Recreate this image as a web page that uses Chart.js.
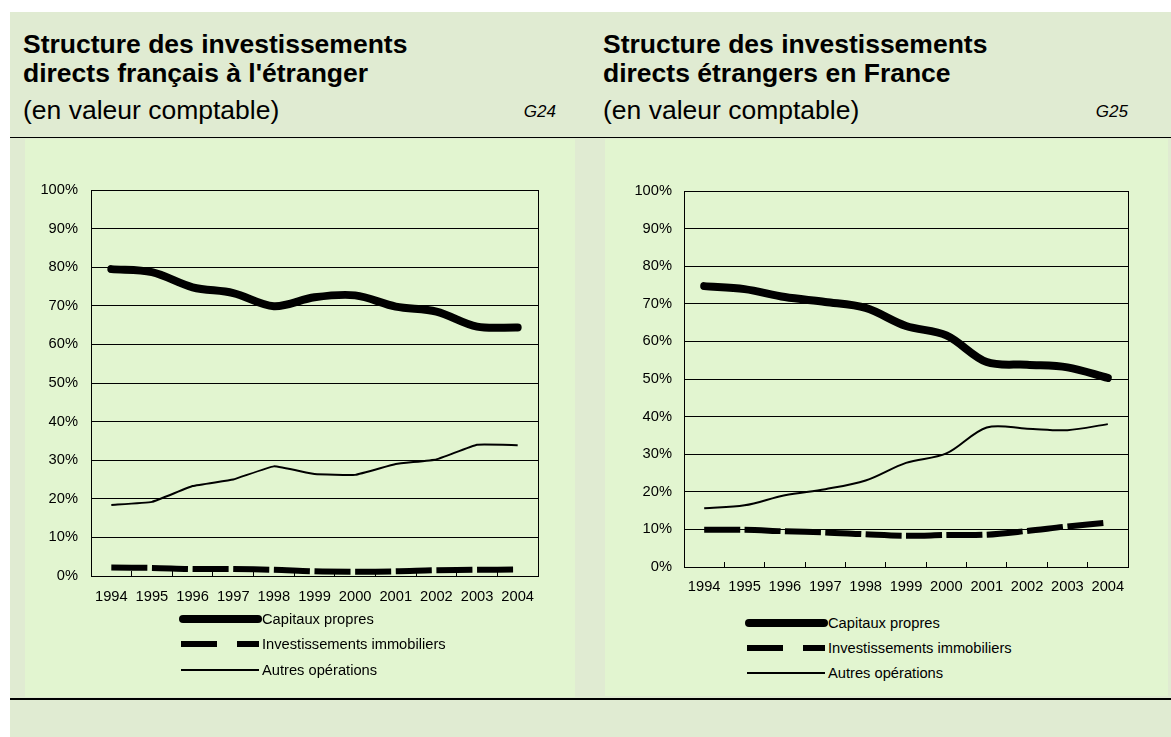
<!DOCTYPE html>
<html lang="fr">
<head>
<meta charset="utf-8">
<title>Structure des investissements directs</title>
<script src="https://cdn.jsdelivr.net/npm/chart.js@4.4.1/dist/chart.umd.min.js"></script>
<style>
  html, body { margin: 0; padding: 0; }
  body {
    width: 1171px; height: 737px; position: relative; overflow: hidden;
    background: #fff; color: #000;
    font-family: "Liberation Sans", Arial, sans-serif;
  }
  .band { position: absolute; left: 10px; top: 12px; right: 0; bottom: 0; background: #e0ebd2; }
  .rule { position: absolute; left: 10px; right: 0; background: #000; }
  .panel { position: absolute; background: #e2f5d0; }
  .title { position: absolute; font-size: 26.5px; line-height: 29px; white-space: nowrap; font-weight: bold; }
  .sub { position: absolute; font-size: 26.5px; line-height: 30px; white-space: nowrap; }
  .num { position: absolute; width: 80px; text-align: right; font-style: italic; font-size: 17px; line-height: 30px; }
  canvas { position: absolute; }
  .legend { position: absolute; font-size: 14.7px; }
  .legend div { display: flex; align-items: center; }
  .legend svg { display: block; }
</style>
</head>
<body>
<div class="band"></div>
<div class="rule" style="top:137px;height:1px"></div>
<div class="panel" style="left:25px;top:139px;width:550px;height:558px"></div>
<div class="panel" style="left:605px;top:139px;width:563px;height:557px"></div>
<div class="rule" style="top:698px;height:2px"></div>

<div class="title" style="left:23px;top:30px">Structure des investissements<br>directs français à l'étranger</div>
<div class="sub" style="left:23px;top:95px">(en valeur comptable)</div>
<div class="num" style="left:476px;top:97px">G24</div>
<div class="title" style="left:603px;top:30px">Structure des investissements<br>directs étrangers en France</div>
<div class="sub" style="left:603px;top:95px">(en valeur comptable)</div>
<div class="num" style="left:1048px;top:97px">G25</div>

<canvas id="g24" width="550" height="470" style="left:25px;top:139px"></canvas>
<canvas id="g25" width="563" height="470" style="left:605px;top:139px"></canvas>
<div class="legend" id="leg24" style="left:179px;top:606px"></div>
<div class="legend" id="leg25" style="left:745px;top:610px"></div>

<script>
// years on the x axis
const years = ["1994", "1995", "1996", "1997", "1998", "1999", "2000", "2001", "2002", "2003", "2004"];
const seriesLabels = ["Capitaux propres", "Investissements immobiliers", "Autres opérations"];

// G24 : investissements directs français à l'étranger (en %)
const capitauxG24 = [79.5, 78.7, 74.8, 73.3, 69.9, 72.2, 72.7, 69.8, 68.5, 64.6, 64.4];
const immobilierG24 = [2.2, 2.1, 1.8, 1.8, 1.6, 1.2, 1.1, 1.2, 1.5, 1.6, 1.7];
const autresG24 = [18.4, 19.2, 23.3, 25.0, 28.4, 26.4, 26.2, 29.0, 30.2, 34.0, 33.9];

// G25 : investissements directs étrangers en France (en %)
const capitauxG25 = [74.7, 73.9, 71.8, 70.5, 68.9, 64.1, 61.6, 54.5, 53.8, 53.1, 50.3];
const immobilierG25 = [9.9, 9.9, 9.5, 9.2, 8.7, 8.3, 8.5, 8.6, 9.6, 10.8, 11.8];
const autresG25 = [15.6, 16.4, 19.1, 20.7, 23.0, 27.7, 30.2, 37.1, 36.8, 36.4, 38.0];

// y axis ticks
const yMin = 0;
const yMax = 100;
const yStep = 10;

Chart.defaults.font.family = '"Liberation Sans", Arial, sans-serif';
Chart.defaults.color = "#000";

const tickFont = { size: 14.7 };

// black frame around the plot area
const frame = {
  id: "frame",
  beforeDatasetsDraw(chart) {
    const { ctx, chartArea: a } = chart;
    ctx.save();
    ctx.strokeStyle = "#000";
    ctx.lineWidth = 1;
    ctx.strokeRect(Math.round(a.left) + 0.5, Math.round(a.top) + 0.5, Math.round(a.width), Math.round(a.height));
    ctx.restore();
  }
};

function makeDatasets(capitaux, immobilier, autres, autresTension) {
  return [
    {
      label: seriesLabels[0], data: capitaux,
      borderColor: "#000", borderWidth: 8, borderCapStyle: "round", borderJoinStyle: "round",
      tension: 0.33
    },
    {
      label: seriesLabels[1], data: immobilier,
      borderColor: "#000", borderWidth: 6, borderDash: [36, 20], borderCapStyle: "butt",
      tension: 0.33,
      // restart the dash pattern at every point, like the original
      segment: { borderDashOffset: c => (c.p0DataIndex % 2) * 56 }
    },
    {
      label: seriesLabels[2], data: autres,
      borderColor: "#000", borderWidth: 2, borderJoinStyle: "round",
      tension: autresTension
    }
  ];
}

function makeChart(id, datasets, box) {
  return new Chart(document.getElementById(id), {
    type: "line",
    data: { labels: years, datasets },
    options: {
      responsive: false,
      animation: false,
      layout: { padding: { top: box.top, right: box.right, left: 0, bottom: 0 } },
      elements: { point: { radius: 0 } },
      plugins: { legend: { display: false }, tooltip: { enabled: false } },
      scales: {
        x: {
          offset: true,
          grid: { offset: true, drawOnChartArea: false, drawTicks: true, tickLength: -5, color: "#000", lineWidth: 1 },
          border: { color: "#000", width: 1 },
          ticks: { font: tickFont, padding: box.xPad, maxRotation: 0, autoSkip: false },
          afterFit: s => { s.height = box.xHeight; }
        },
        y: {
          min: yMin, max: yMax,
          grid: { color: "#000", lineWidth: 1, drawTicks: false },
          border: { color: "#000", width: 1 },
          ticks: { stepSize: yStep, font: tickFont, padding: box.yPad, callback: v => v + "%" },
          afterFit: s => { s.width = box.yWidth; }
        }
      }
    },
    plugins: [frame]
  });
}

function makeLegend(id, datasets, rowHeight) {
  const el = document.getElementById(id);
  datasets.forEach(ds => {
    const round = ds.borderCapStyle === "round";
    const x1 = round ? ds.borderWidth / 2 : 2;
    const x2 = round ? 83 - ds.borderWidth / 2 : 80;
    const dash = ds.borderDash ? ` stroke-dasharray="${ds.borderDash.join(" ")}"` : "";
    const row = document.createElement("div");
    row.style.height = rowHeight + "px";
    row.innerHTML =
      `<svg width="83" height="12"><line x1="${x1}" y1="6" x2="${x2}" y2="6" stroke="#000" ` +
      `stroke-width="${ds.borderWidth}" stroke-linecap="${round ? "round" : "butt"}"${dash}/></svg>` +
      `<span>${ds.label}</span>`;
    el.appendChild(row);
  });
}

const ds24 = makeDatasets(capitauxG24, immobilierG24, autresG24, 0.1);
const ds25 = makeDatasets(capitauxG25, immobilierG25, autresG25, 0.33);

makeChart("g24", ds24, { top: 51, right: 37, yWidth: 66, xHeight: 33, xPad: 17, yPad: 13 });
makeChart("g25", ds25, { top: 52, right: 40, yWidth: 79, xHeight: 42, xPad: 16, yPad: 12 });

makeLegend("leg24", ds24, 25.5);
makeLegend("leg25", ds25, 25);
</script>
</body>
</html>
